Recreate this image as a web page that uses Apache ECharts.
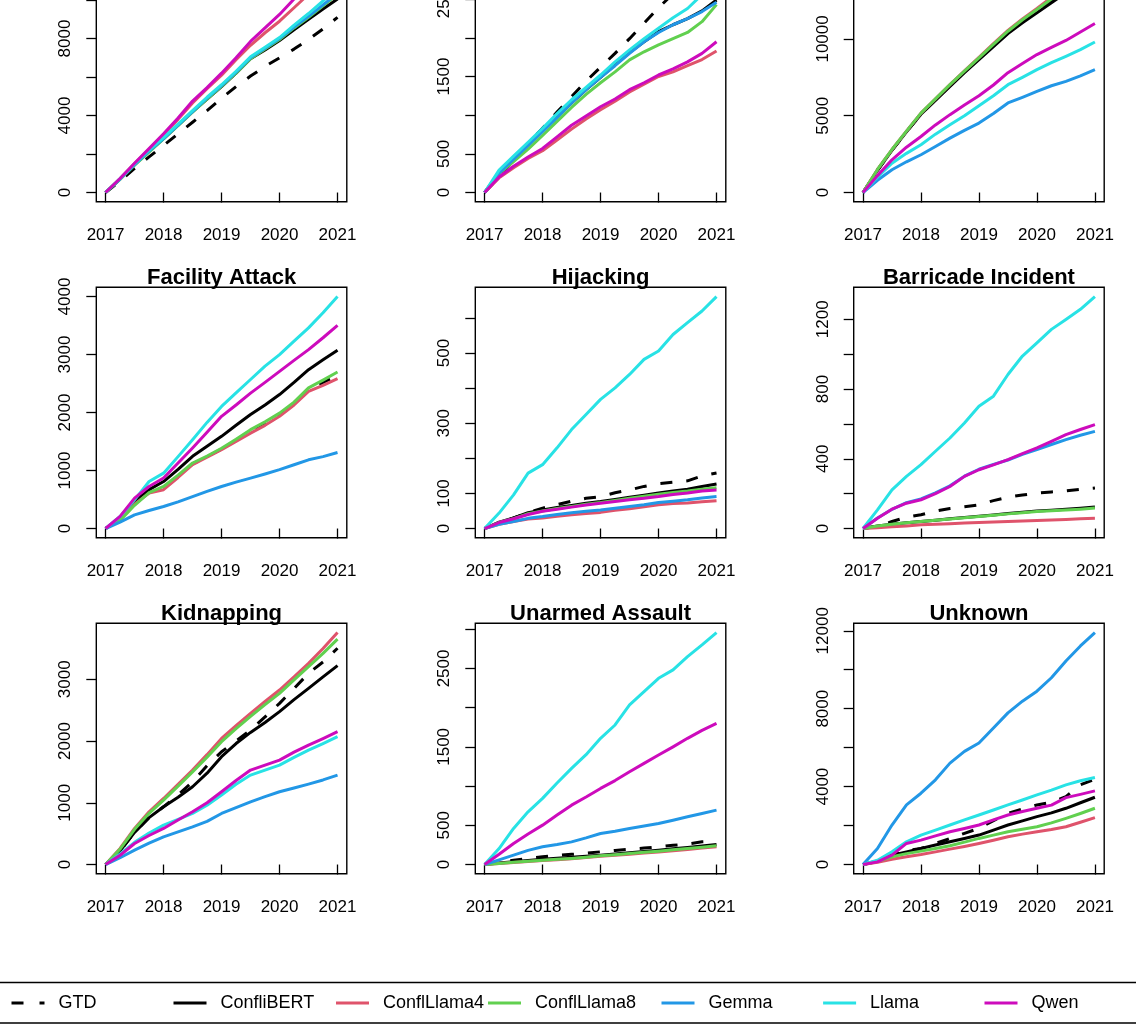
<!DOCTYPE html>
<html><head><meta charset="utf-8">
<script src="https://cdn.jsdelivr.net/npm/echarts@6/dist/echarts.min.js"></script>
<style>html,body{margin:0;padding:0;background:#fff;overflow:hidden;width:1136px;height:1024px;position:relative}#c{position:absolute;left:0;top:-49px;width:1136px;height:1073px}</style>
</head><body><div id="c"></div>
<script>
// ---- data ----
const years = [2017, 2017.25, 2017.5, 2017.75, 2018, 2018.25, 2018.5, 2018.75, 2019, 2019.25, 2019.5, 2019.75, 2020, 2020.25, 2020.5, 2020.75, 2021];
const models = ['GTD', 'ConfliBERT', 'ConflLlama4', 'ConflLlama8', 'Gemma', 'Llama', 'Qwen'];
const modelColors = ['#000000', '#000000', '#DF536B', '#61D04F', '#2297E6', '#28E2E5', '#CD0BBC'];
const xTickValues = [2017, 2018, 2019, 2020, 2021];
const panelTitles = [null, null, null, 'Facility Attack', 'Hijacking', 'Barricade Incident', 'Kidnapping', 'Unarmed Assault', 'Unknown'];

// rows per panel in model order: GTD, ConfliBERT, ConflLlama4, ConflLlama8, Gemma, Llama, Qwen
const panelTopLeft = [
  [0, 600, 1250, 1850, 2450, 3050, 3650, 4250, 4900, 5500, 6050, 6550, 7000, 7450, 7950, 8500, 9100],
  [0, 700, 1450, 2150, 2800, 3500, 4200, 4850, 5500, 6200, 6950, 7400, 7900, 8450, 9000, 9530, 10050],
  [0, 720, 1500, 2250, 3000, 3800, 4650, 5400, 6100, 6900, 7650, 8300, 8900, 9600, 10300, 11000, 11700],
  [0, 680, 1420, 2100, 2780, 3480, 4180, 4850, 5520, 6200, 6950, 7450, 7950, 8550, 9100, 9700, 10300],
  [0, 700, 1450, 2150, 2800, 3500, 4200, 4900, 5550, 6250, 7000, 7500, 8000, 8600, 9150, 9750, 10350],
  [0, 720, 1480, 2200, 2850, 3550, 4250, 4950, 5600, 6300, 7050, 7550, 8050, 8700, 9300, 9950, 10650],
  [0, 730, 1520, 2280, 3050, 3870, 4750, 5450, 6200, 7000, 7850, 8550, 9250, 10050, 10750, 11400, 12050]
];
const panelTopMid = [
  [0, 200, 420, 640, 830, 1040, 1240, 1440, 1620, 1800, 1990, 2190, 2390, 2570, 2740, 2880, 3000],
  [0, 260, 440, 620, 800, 980, 1160, 1330, 1490, 1650, 1810, 1950, 2080, 2170, 2250, 2350, 2490],
  [0, 190, 320, 440, 540, 680, 820, 950, 1070, 1180, 1300, 1400, 1500, 1560, 1640, 1720, 1830],
  [0, 240, 400, 560, 740, 920, 1100, 1270, 1420, 1560, 1715, 1820, 1910, 1990, 2070, 2210, 2430],
  [0, 250, 430, 610, 790, 970, 1160, 1330, 1490, 1640, 1800, 1950, 2070, 2170, 2250, 2340, 2460],
  [0, 290, 470, 650, 830, 1020, 1200, 1360, 1520, 1690, 1845, 1990, 2125, 2260, 2380, 2560, 2720],
  [0, 200, 340, 460, 570, 720, 870, 990, 1110, 1210, 1330, 1420, 1520, 1600, 1690, 1800, 1950]
];
const panelTopRight = [
  [0, 1450, 2750, 3950, 5100, 6050, 6950, 7850, 8700, 9550, 10400, 11100, 11800, 12450, 13100, 13800, 14600],
  [0, 1450, 2750, 3950, 5100, 6000, 6900, 7800, 8650, 9500, 10350, 11050, 11700, 12350, 13000, 13700, 14500],
  [0, 1500, 2800, 4000, 5170, 6100, 7020, 7920, 8800, 9700, 10550, 11300, 11980, 12700, 13450, 14250, 15100],
  [0, 1500, 2800, 4000, 5170, 6100, 7020, 7900, 8760, 9650, 10500, 11250, 11910, 12600, 13300, 14100, 14900],
  [0, 800, 1480, 2000, 2460, 3000, 3540, 4050, 4520, 5150, 5830, 6200, 6590, 6950, 7240, 7600, 8000],
  [0, 1000, 1910, 2550, 3110, 3800, 4410, 5000, 5650, 6300, 7020, 7500, 8000, 8450, 8870, 9300, 9800],
  [0, 1100, 2130, 2950, 3650, 4400, 5070, 5700, 6300, 7000, 7800, 8400, 8980, 9450, 9900, 10450, 11000]
];
const facilityAttack = [
  [0, 150, 420, 620, 700, 900, 1115, 1240, 1370, 1520, 1675, 1810, 1960, 2150, 2390, 2520, 2640],
  [0, 170, 465, 670, 810, 1020, 1245, 1420, 1590, 1780, 1965, 2130, 2310, 2520, 2740, 2910, 3075],
  [0, 150, 420, 610, 670, 880, 1100, 1230, 1360, 1500, 1645, 1780, 1935, 2130, 2365, 2470, 2585],
  [0, 140, 400, 620, 725, 920, 1130, 1250, 1385, 1540, 1705, 1840, 1990, 2180, 2425, 2560, 2700],
  [0, 110, 235, 310, 380, 460, 550, 640, 725, 800, 870, 940, 1015, 1100, 1185, 1240, 1310],
  [0, 207, 495, 810, 955, 1240, 1530, 1830, 2105, 2340, 2570, 2800, 3000, 3230, 3460, 3720, 4000],
  [0, 210, 525, 725, 870, 1130, 1390, 1660, 1935, 2130, 2335, 2520, 2710, 2900, 3085, 3290, 3505]
];
const hijacking = [
  [0, 15, 30, 45, 58, 68, 78, 86, 91, 102, 110, 120, 128, 132, 136, 150, 158],
  [0, 18, 30, 45, 53, 60, 66, 72, 77, 83, 89, 95, 101, 107, 112, 120, 127],
  [0, 12, 20, 27, 30, 35, 39, 43, 46, 52, 56, 62, 68, 71, 73, 76, 79],
  [0, 17, 28, 42, 50, 57, 63, 69, 74, 80, 86, 92, 98, 103, 107, 112, 116],
  [0, 12, 20, 29, 34, 40, 45, 49, 53, 58, 63, 68, 74, 78, 82, 87, 91],
  [0, 44, 96, 158, 182, 230, 282, 325, 368, 401, 439, 482, 506, 553, 587, 620, 661],
  [0, 17, 28, 40, 49, 55, 61, 67, 72, 77, 82, 86, 91, 97, 101, 107, 110]
];
const barricadeIncident = [
  [0, 12, 40, 65, 79, 100, 115, 125, 136, 160, 180, 192, 203, 210, 216, 225, 232],
  [0, 15, 25, 33, 40, 48, 56, 63, 70, 78, 86, 93, 100, 105, 110, 116, 123],
  [0, 5, 10, 15, 21, 24, 28, 31, 34, 37, 40, 43, 46, 49, 52, 56, 59],
  [0, 15, 25, 33, 40, 48, 55, 62, 69, 76, 84, 91, 98, 102, 106, 111, 117],
  [0, 60, 110, 148, 170, 205, 245, 300, 340, 368, 393, 425, 452, 482, 510, 535, 557],
  [0, 107, 222, 299, 366, 443, 519, 605, 701, 759, 883, 989, 1065, 1142, 1199, 1257, 1330],
  [0, 59, 111, 145, 165, 200, 241, 299, 337, 365, 395, 430, 462, 500, 538, 568, 596]
];
const kidnapping = [
  [0, 220, 520, 760, 935, 1130, 1340, 1600, 1827, 2000, 2178, 2390, 2611, 2850, 3097, 3280, 3503],
  [0, 220, 520, 760, 935, 1090, 1260, 1480, 1746, 1960, 2140, 2300, 2476, 2670, 2854, 3040, 3222],
  [0, 260, 584, 854, 1070, 1300, 1530, 1780, 2043, 2250, 2449, 2640, 2827, 3040, 3260, 3500, 3757],
  [0, 250, 570, 830, 1043, 1270, 1500, 1740, 1989, 2200, 2400, 2590, 2773, 2990, 3205, 3420, 3650],
  [0, 110, 232, 345, 449, 530, 611, 700, 827, 920, 1016, 1100, 1178, 1240, 1303, 1370, 1449],
  [0, 170, 360, 510, 638, 730, 827, 960, 1124, 1300, 1449, 1530, 1611, 1735, 1854, 1960, 2070],
  [0, 150, 340, 470, 584, 720, 854, 1000, 1178, 1360, 1530, 1610, 1692, 1820, 1935, 2040, 2151]
];
const unarmedAssault = [
  [0, 30, 55, 78, 98, 115, 130, 145, 162, 180, 195, 210, 226, 245, 262, 289, 295],
  [0, 18, 35, 52, 68, 80, 92, 105, 119, 135, 150, 166, 183, 200, 218, 237, 255],
  [0, 13, 26, 39, 51, 62, 73, 88, 104, 118, 132, 146, 160, 176, 192, 209, 226],
  [0, 14, 28, 42, 55, 66, 78, 94, 111, 125, 140, 155, 170, 187, 204, 221, 238],
  [0, 60, 119, 180, 226, 255, 289, 340, 396, 425, 460, 490, 523, 565, 609, 650, 694],
  [0, 204, 460, 672, 843, 1040, 1226, 1400, 1609, 1779, 2034, 2204, 2374, 2481, 2651, 2800, 2957],
  [0, 130, 268, 390, 502, 630, 757, 860, 970, 1070, 1183, 1290, 1396, 1500, 1609, 1710, 1800]
];
const unknownType = [
  [0, 150, 481, 700, 825, 1080, 1340, 1600, 1856, 2250, 2629, 2850, 3058, 3200, 3488, 4089, 4381],
  [0, 180, 481, 650, 825, 1000, 1168, 1340, 1512, 1770, 2028, 2240, 2457, 2650, 2887, 3170, 3454],
  [0, 110, 275, 400, 515, 650, 790, 930, 1082, 1250, 1426, 1560, 1684, 1800, 1942, 2170, 2405],
  [0, 160, 395, 560, 687, 820, 962, 1150, 1340, 1510, 1684, 1810, 1942, 2140, 2371, 2620, 2887],
  [0, 825, 2028, 3058, 3660, 4347, 5206, 5808, 6237, 7010, 7784, 8385, 8900, 9588, 10447, 11220, 11907],
  [0, 223, 653, 1168, 1512, 1770, 2028, 2290, 2543, 2800, 3058, 3310, 3574, 3820, 4089, 4300, 4467],
  [0, 137, 481, 1082, 1254, 1470, 1684, 1850, 2028, 2290, 2543, 2720, 2887, 3050, 3436, 3600, 3780]
];
const panels = [panelTopLeft, panelTopMid, panelTopRight, facilityAttack, hijacking, barricadeIncident, kidnapping, unarmedAssault, unknownType];

const yTickValues = [
  [0, 2000, 4000, 6000, 8000, 10000, 12000],
  [0, 500, 1000, 1500, 2000, 2500, 3000],
  [0, 5000, 10000, 15000],
  [0, 1000, 2000, 3000, 4000],
  [0, 100, 200, 300, 400, 500, 600],
  [0, 200, 400, 600, 800, 1000, 1200],
  [0, 1000, 2000, 3000],
  [0, 500, 1000, 1500, 2000, 2500, 3000],
  [0, 2000, 4000, 6000, 8000, 10000, 12000]
];
const yTickLabels = [
  [0, 4000, 8000, 12000],
  [0, 500, 1500, 2500],
  [0, 5000, 10000, 15000],
  [0, 1000, 2000, 3000, 4000],
  [0, 100, 300, 500],
  [0, 400, 800, 1200],
  [0, 1000, 2000, 3000],
  [0, 500, 1500, 2500],
  [0, 4000, 8000, 12000]
];

// ---- layout (chart canvas is shifted 49px up so the top row is clipped as in the original) ----
const colLeft = [96.3, 475.3, 853.7];
const rowTop = [0.3, 336.3, 672.3];
const boxSize = 250.5;
const legendLeft = [10, 172, 334.5, 486.5, 660, 821.6, 983];
const legendTop = 1043;
const FONT = 'Liberation Sans, Arial, Helvetica, sans-serif';
const plainNum = v => String(v);

const grids = [], xAxes = [], yAxes = [], series = [], titles = [];
panels.forEach((rows, p) => {
  const r = Math.floor(p / 3), c = p % 3;
  grids.push({ left: colLeft[c], top: rowTop[r], width: boxSize, height: boxSize, show: true, borderColor: '#000', borderWidth: 1.4,
    backgroundColor: 'transparent', containLabel: false, outerBoundsMode: 'none' });
  const x0 = years[0], x1 = years[years.length - 1];
  const xPad = (x1 - x0) * 0.04;
  xAxes.push({
    type: 'value', gridIndex: p, min: x0 - xPad, max: x1 + xPad,
    axisLine: { show: false }, splitLine: { show: false },
    axisTick: { show: true, length: 10, customValues: xTickValues, lineStyle: { color: '#000', width: 1.3 } },
    axisLabel: { customValues: xTickValues, formatter: plainNum, margin: 25, fontSize: 17, color: '#000', fontFamily: FONT }
  });
  let m = 0; rows.forEach(a => a.forEach(v => { if (v > m) m = v; }));
  yAxes.push({
    type: 'value', gridIndex: p, min: -0.04 * m, max: 1.04 * m,
    axisLine: { show: false }, splitLine: { show: false },
    axisTick: { show: true, length: 10, customValues: yTickValues[p], lineStyle: { color: '#000', width: 1.3 } },
    axisLabel: { customValues: yTickLabels[p], formatter: plainNum, rotate: 90, margin: 22, fontSize: 17, color: '#000', fontFamily: FONT }
  });
  rows.forEach((vals, k) => {
    series.push({
      name: models[k], type: 'line', xAxisIndex: p, yAxisIndex: p,
      data: years.map((y, i) => [y, vals[i]]),
      symbol: 'none', silent: true, animation: false, clip: true,
      lineStyle: { color: modelColors[k], width: 3, type: k === 0 ? [12, 14] : 'solid', cap: 'butt', join: 'round' },
      itemStyle: { color: modelColors[k] }
    });
  });
  if (panelTitles[p]) {
    titles.push({ text: panelTitles[p], left: colLeft[c] + boxSize / 2, top: rowTop[r] - 20.5, textAlign: 'center', padding: 0,
      textStyle: { fontSize: 22, fontWeight: 'bold', color: '#000', fontFamily: FONT, lineHeight: 22 } });
  }
});

const legends = models.map((name, k) => ({
  data: [name], left: legendLeft[k], top: legendTop, orient: 'horizontal', padding: 0,
  itemWidth: 33, itemHeight: 18, selectedMode: false,
  itemStyle: { color: 'transparent', borderColor: 'transparent', borderWidth: 0, opacity: 0 },
  lineStyle: { color: modelColors[k], width: 3, type: k === 0 ? [12, 16] : 'solid', cap: 'butt', opacity: 1 },
  textStyle: { fontSize: 18, color: '#000', fontFamily: FONT, padding: [0, 0, 0, 9], lineHeight: 18 }
}));

const chart = echarts.init(document.getElementById('c'), null, { renderer: 'canvas' });
chart.setOption({
  backgroundColor: '#fff',
  animation: false,
  title: titles,
  grid: grids,
  xAxis: xAxes,
  yAxis: yAxes,
  legend: legends,
  series: series,
  graphic: [{ type: 'rect', silent: true, shape: { x: -5, y: legendTop - 11.5, width: 1146, height: 40.5 }, style: { fill: 'none', stroke: '#000', lineWidth: 1.5 } }]
});
</script></body></html>
